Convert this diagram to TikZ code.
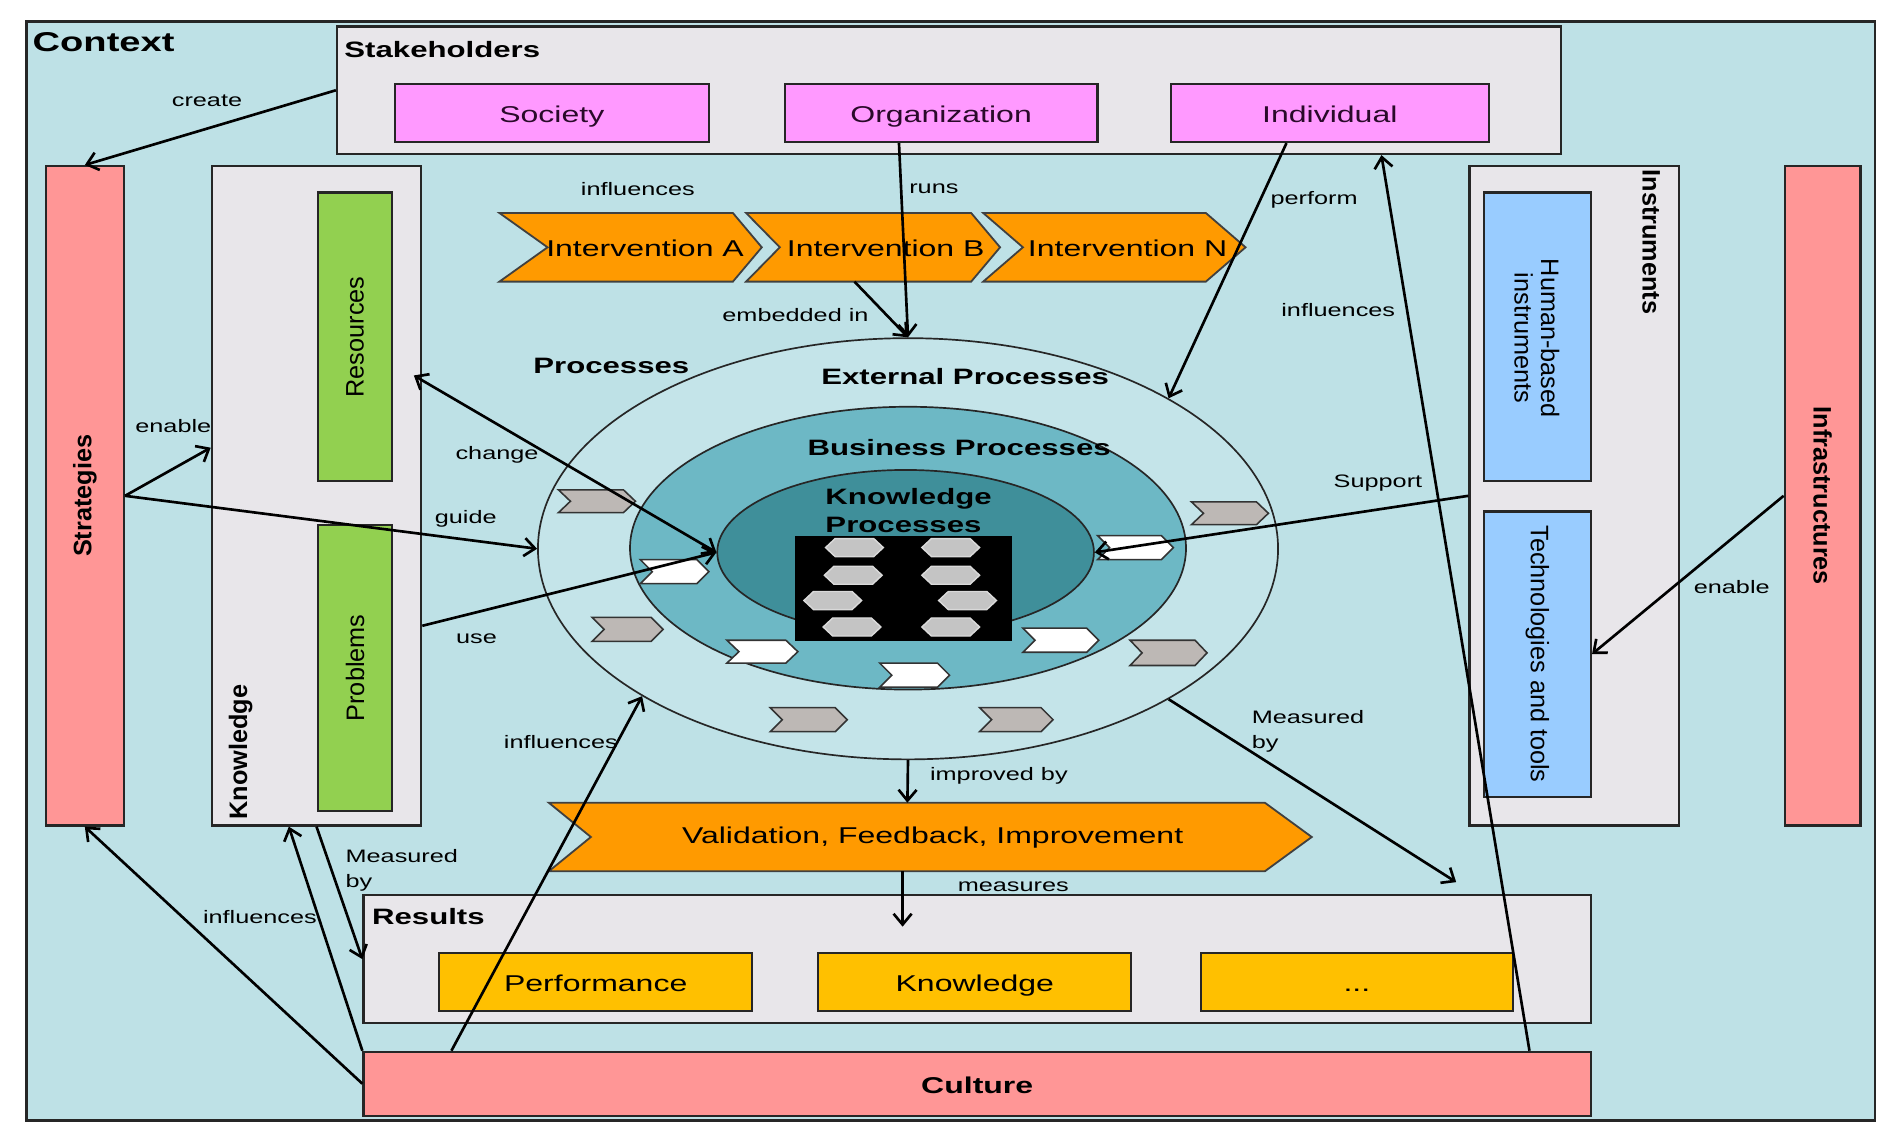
\documentclass[tikz,border=0pt]{standalone}
\usepackage{fontspec}
\setmainfont{Liberation Sans}[FakeStretch=1.4]
\newfontfamily\rotfont{Liberation Sans}
\usetikzlibrary{arrows.meta,shapes.geometric}

\definecolor{ctxbg}{HTML}{BEE1E6}
\definecolor{boxgray}{HTML}{E8E6EA}
\definecolor{pinkc}{HTML}{FF99FF}
\definecolor{pinktext}{HTML}{2A0A2A}
\definecolor{redc}{HTML}{FF9696}
\definecolor{greenc}{HTML}{92D050}
\definecolor{bluec}{HTML}{99CCFF}
\definecolor{orangec}{HTML}{FF9A00}
\definecolor{goldc}{HTML}{FFC000}
\definecolor{outerc}{HTML}{C4E4E9}
\definecolor{bizc}{HTML}{6DB8C5}
\definecolor{kellc}{HTML}{3F8F9A}
\definecolor{chevgray}{HTML}{BDB8B5}
\definecolor{hexgray}{HTML}{C4C4C4}

\newcommand{\mainfs}{\fontsize{19}{22}\selectfont}
\newcommand{\lblfs}{\fontsize{15}{20.5}\selectfont}
\newcommand{\ttlfs}{\fontsize{18.5}{23.5}\selectfont\bfseries}
\newcommand{\rotfs}{\rotfont\fontsize{21}{22}\selectfont}
% chevron: style, left x, notch depth, right body x, point depth, top y, bottom y
\newcommand{\chev}[7]{\path[#1] ({#2},{#6}) -- ({#4},{#6}) -- ({#4+#5},{(#6+#7)/2}) -- ({#4},{#7}) -- ({#2},{#7}) -- ({#2+#3},{(#6+#7)/2}) -- cycle;}
\newcommand{\schev}[5]{\chev{#1}{#2}{10}{#3-10}{10}{#4}{#5}}
% rectangle node from corners: style, x1, y1, x2, y2, name, text
\newcommand{\rbox}[7]{\pgfmathsetmacro\rbw{#4-#2}\pgfmathsetmacro\rbh{#5-#3}%
 \node[#1, minimum width=\rbw pt, minimum height=\rbh pt] (#6) at ({(#2+#4)/2},{(#3+#5)/2}) {#7};}

\begin{document}
\begin{tikzpicture}[x=1pt,y=-1pt,
 frame/.style={draw=black!85, line width=1.8pt, inner sep=0pt},
 graybox/.style={frame, fill=boxgray},
 boxtext/.style={font=\mainfs, text height=15.5pt, text depth=0pt},
 pinkbox/.style={frame, fill=pinkc, boxtext, text=pinktext},
 redbar/.style={frame, fill=redc},
 greenbar/.style={frame, fill=greenc},
 bluebar/.style={frame, fill=bluec},
 goldbox/.style={frame, fill=goldc, boxtext},
 ell/.style={ellipse, draw=black!85, line width=1.4pt, inner sep=0pt},
 bigchev/.style={fill=orangec, draw=black!75, line width=1.5pt},
 graychev/.style={fill=chevgray, draw=black!80, line width=1.3pt},
 whitechev/.style={fill=white, draw=black!80, line width=1.3pt},
 hexa/.style={fill=hexgray, draw=white!85!black, line width=1.2pt},
 lbl/.style={font=\lblfs, inner sep=0pt},
 ttl/.style={font=\ttlfs, inner sep=0pt},
 maintxt/.style={font=\mainfs, inner sep=0pt},
 rottxt/.style={font=\rotfs, inner sep=0pt},
 rotbold/.style={font=\rotfs\bfseries, inner sep=0pt},
 arr/.style={line width=2.2pt, -{Straight Barb[length=9pt,width=15pt]}},
 darr/.style={line width=2.2pt, {Straight Barb[length=9pt,width=15pt]}-{Straight Barb[length=9pt,width=15pt]}}
]
\fill[white] (0,0) rectangle (1568,944);
\useasboundingbox (0,0) rectangle (1568,944);

% context frame
\rbox{frame, line width=2pt, fill=ctxbg}{22}{18}{1558}{931}{context}{}
\node[font=\fontsize{22.6}{25}\selectfont\bfseries, inner sep=0pt, anchor=west] (ctxlbl) at (27,35) {Context};

% stakeholders
\rbox{graybox}{280}{22}{1297}{128}{stake}{}
\node[ttl, anchor=west] (stakelbl) at (286,41) {Stakeholders};
\rbox{pinkbox}{328}{70}{589}{118}{society}{Society}
\rbox{pinkbox}{652}{70}{912}{118}{org}{Organization}
\rbox{pinkbox}{973}{70}{1237}{118}{ind}{Individual}

% left column
\rbox{redbar}{38}{138}{103}{686}{strat}{}
\node[rotbold, rotate=90] (stratlbl) at (strat.center) {Strategies};
\rbox{graybox}{176}{138}{350}{686}{know}{}
\node[rotbold, rotate=90] (knowlbl) at (200,625) {Knowledge};
\rbox{greenbar}{264}{160}{326}{400}{res}{}
\node[rottxt, rotate=90] (reslbl) at (res.center) {Resources};
\rbox{greenbar}{264}{436}{326}{674}{prob}{}
\node[rottxt, rotate=90] (problbl) at (prob.center) {Problems};

% right column
\rbox{graybox}{1221}{138}{1395}{686}{instr}{}
\node[rotbold, rotate=-90] (instrlbl) at (1372,201) {Instruments};
\rbox{bluebar}{1233}{160}{1322}{400}{human}{}
\node[rottxt, rotate=-90, align=center] (humanlbl) at (1277,281) {Human-based\\instruments};
\rbox{bluebar}{1233}{425}{1322}{662}{tech}{}
\node[rottxt, rotate=-90] (techlbl) at (tech.center) {Technologies and tools};
\rbox{redbar}{1483}{138}{1546}{686}{infra}{}
\node[rotbold, rotate=-90] (infralbl) at (infra.center) {Infrastructures};

% processes
\node[ttl] (proclbl) at (508,304) {Processes};
\node[ell, fill=outerc, minimum width=615, minimum height=350] (outer) at (754.5,456) {};
\node[ell, fill=bizc, minimum width=462, minimum height=235] (biz) at (754.5,455.5) {};
\node[ell, fill=kellc, minimum width=313, minimum height=137] (kell) at (752.5,459) {};
\node[ttl] (extlbl) at (802,312.5) {External Processes};
\node[ttl] (bizlbl) at (797,372) {Business Processes};
\node[ttl, align=left] (kplbl) at (755,424) {Knowledge\\Processes};
\node[fill=black, inner sep=0pt, minimum width=180, minimum height=88] (kpimg) at (751,489) {};
\foreach \cx/\cy in {710/455,790/455,709/478,790/478,692/499,804/499,708/521,790/521}
  \path[hexa] ({\cx-24},{\cy}) -- ({\cx-16},{\cy-7.5}) -- ({\cx+16},{\cy-7.5}) -- ({\cx+24},{\cy}) -- ({\cx+16},{\cy+7.5}) -- ({\cx-16},{\cy+7.5}) -- cycle;

% small chevrons
\schev{graychev}{464}{528}{407}{426}
\schev{whitechev}{532}{589}{465}{485}
\schev{graychev}{492}{551}{513}{533}
\schev{whitechev}{604}{663}{532}{551}
\schev{whitechev}{731}{789}{551}{571}
\schev{graychev}{640}{704}{588}{608}
\schev{graychev}{814}{875}{588}{608}
\schev{whitechev}{850}{913}{522}{542}
\schev{graychev}{939}{1003}{532}{553}
\schev{whitechev}{912}{975}{445}{465}
\schev{graychev}{990}{1054}{417}{436}

% interventions
\chev{bigchev}{415}{40}{609}{24}{177}{234}
\chev{bigchev}{620}{28}{807}{24}{177}{234}
\chev{bigchev}{817}{33}{1002}{33}{177}{234}
\node[maintxt] (intA) at (536,206) {Intervention A};
\node[maintxt] (intB) at (736,206) {Intervention B};
\node[maintxt] (intN) at (937,206) {Intervention N};
\coordinate (intBbot) at (710,234);

% validation
\chev{bigchev}{456}{35}{1051}{39}{667}{724}
\node[maintxt] (valid) at (775,696) {Validation, Feedback, Improvement};
\coordinate (valtop) at (754,667);
\coordinate (valbot) at (750,724);

% results and culture
\rbox{graybox}{302}{744}{1322}{850}{results}{}
\node[ttl, anchor=west] (reslbl2) at (309,762) {Results};
\rbox{goldbox}{365}{792}{625}{840}{perf}{Performance}
\rbox{goldbox}{680}{792}{940}{840}{knowres}{Knowledge}
\rbox{goldbox}{998}{792}{1257}{840}{dots}{...}
\rbox{redbar, boxtext, font=\mainfs\bfseries}{302}{874}{1322}{927}{culture}{Culture}
\coordinate (resin) at (750,770);
\coordinate (mbend) at (1210,733);

% labels
\node[lbl] (l1) at (172,84) {create};
\node[lbl] (l2) at (144,354) {enable};
\node[lbl] (l3) at (387,431) {guide};
\node[lbl] (l4) at (413,378) {change};
\node[lbl] (l5) at (396,531) {use};
\node[lbl] (l6) at (530,157) {influences};
\node[lbl] (l7) at (776,157) {runs};
\node[lbl] (l8) at (1092,166) {perform};
\node[lbl] (l9) at (661,262) {embedded in};
\node[lbl] (l10) at (1112,258) {influences};
\node[lbl] (l11) at (1145,401) {Support};
\node[lbl] (l12) at (1439,488) {enable};
\node[lbl, align=left, anchor=north west] (l13) at (1040,590) {Measured\\by};
\node[lbl] (l14) at (830,645) {improved by};
\node[lbl] (l15) at (842,737) {measures};
\node[lbl, align=left, anchor=north west] (l16) at (287,706) {Measured\\by};
\node[lbl] (l17) at (216,762) {influences};
\node[lbl] (l18) at (466,617) {influences};

% connectors
\draw[arr] (stake.west) -- (strat.north);
\draw[arr] (strat.east) -- ([yshift=40pt]know.west);
\draw[arr] (strat.east) -- (outer.west);
\draw[darr] ([xshift=-7pt,yshift=100pt]know.east) -- (kell.west);
\draw[arr] ([yshift=-108pt]know.east) -- (kell.west);
\draw[arr] ([xshift=74pt]culture.north west) -- (outer.209);
\draw[arr] ([xshift=-35pt]org.south) -- (outer.north);
\draw[arr] (intBbot) -- (outer.north);
\draw[arr] ([xshift=-36pt]ind.south) -- (outer.30);
\draw[arr] ([xshift=-52pt]culture.north east) -- ([xshift=-150pt]stake.south east);
\draw[arr] (instr.west) -- (kell.east);
\draw[arr] (infra.west) -- (tech.east);
\draw[arr] (outer.-30) -- (mbend);
\draw[arr] (outer.south) -- (valtop);
\draw[arr] (valbot) -- (resin);
\draw[arr] (know.south) -- (results.west);
\draw[arr] (culture.north west) -- ([xshift=-23pt]know.south);
\draw[arr] (culture.west) -- (strat.south);
\end{tikzpicture}
\end{document}
